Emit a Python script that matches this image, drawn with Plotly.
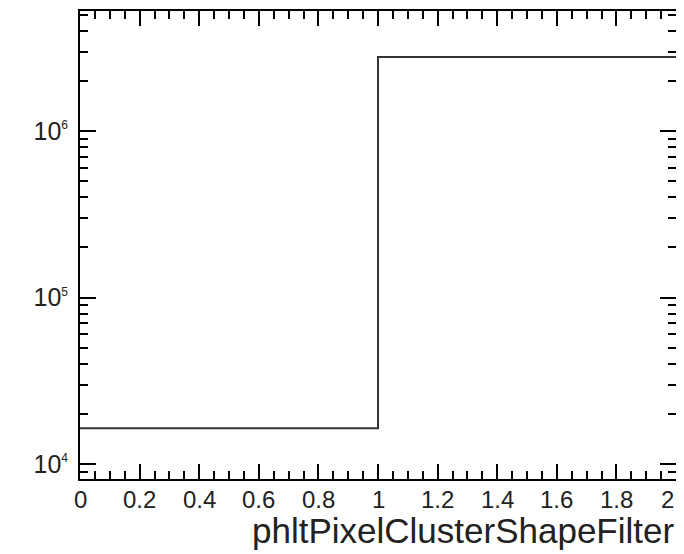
import plotly.graph_objects as go

# Histogram data (two bins)
bin_edges = [0.0, 1.0, 2.0]
bin_values = [1.64e4, 2.78e6]

x_tick_vals = [0, 0.2, 0.4, 0.6, 0.8, 1.0, 1.2, 1.4, 1.6, 1.8, 2.0]
x_tick_text = ["0", "0.2", "0.4", "0.6", "0.8", "1", "1.2", "1.4", "1.6", "1.8", "2"]
y_tick_vals = [1e4, 1e5, 1e6]
y_exponents = ["4", "5", "6"]
x_title = "phltPixelClusterShapeFilter"

y_tick_text = ["10<sup><span style='font-size:12px'>%s</span></sup>" % e for e in y_exponents]
y_minor = [m * 10 ** d for d in range(3, 7) for m in range(2, 10)]

step_x = bin_edges
step_y = bin_values + [bin_values[-1]]

fig = go.Figure()
fig.add_trace(go.Scatter(
    x=step_x, y=step_y, mode="lines", line_shape="hv",
    line=dict(color="#333333", width=2), showlegend=False, hoverinfo="skip",
))

font_family = "Liberation Sans, Arial, sans-serif"
text_color = "#222222"

annotations = []
for i, (v, t) in enumerate(zip(x_tick_vals, x_tick_text)):
    last = i == len(x_tick_vals) - 1
    annotations.append(dict(
        text=t, x=v, xref="x", y=0, yref="paper",
        xanchor="right" if last else "center", yanchor="top",
        yshift=-5, showarrow=False, font=dict(size=24, family=font_family, color=text_color),
    ))
annotations.append(dict(
    text=x_title, xref="paper", yref="paper", x=1.0, y=-0.111,
    xanchor="right", yanchor="middle", showarrow=False,
    font=dict(size=35, family=font_family, color=text_color),
))

# page body has an 8px default margin; compensate in figure size/margins
fig.update_layout(
    width=676, height=546,
    margin=dict(l=72, r=8, t=3, b=75),
    paper_bgcolor="white", plot_bgcolor="white",
    font=dict(family=font_family, color=text_color),
    xaxis=dict(
        range=[0, 2], showgrid=False, zeroline=False, automargin=False,
        showline=True, linecolor="black", linewidth=2, mirror="ticks",
        ticks="inside", ticklen=15, tickwidth=2, tickcolor="black",
        tickvals=x_tick_vals, showticklabels=False,
        minor=dict(ticks="inside", ticklen=8, tickwidth=2, tickcolor="black", dtick=0.05),
    ),
    yaxis=dict(
        type="log", range=[3.910, 6.721], showgrid=False, zeroline=False, automargin=False,
        showline=True, linecolor="black", linewidth=2, mirror="ticks",
        ticks="inside", ticklen=16, tickwidth=2, tickcolor="black",
        tickvals=y_tick_vals, ticktext=y_tick_text, ticklabelstandoff=5,
        tickfont=dict(size=25, family=font_family, color=text_color),
        minor=dict(ticks="inside", ticklen=8, tickwidth=2, tickcolor="black", tickvals=y_minor),
    ),
    annotations=annotations,
)

fig.write_html("out.html")
